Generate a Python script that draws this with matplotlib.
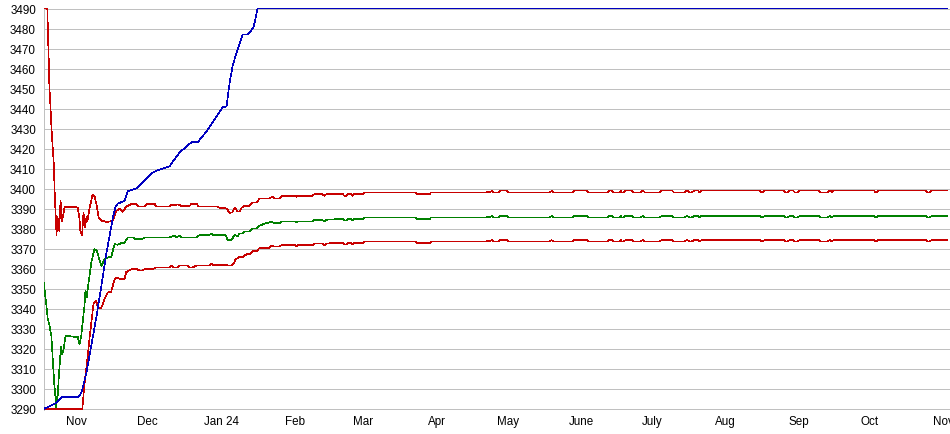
import matplotlib
matplotlib.use("Agg")
import matplotlib.pyplot as plt
import pandas as pd

start_date = "2023-10-18"

# ---- upper red series (days since start, value) ----
upper_day = [0, 1.6, 1.8, 2.2, 2.5, 3.0, 3.4, 3.9, 4.4, 4.7, 5.5, 5.9, 6.6, 7.2, 7.8, 8.2, 8.9,
             14.4, 15.2, 15.6, 16.3, 16.9, 17.5, 18.2, 18.6, 19.4, 20.7, 21.6, 22.4, 23.2, 24.4,
             25.4, 26.6, 29.2, 30.8, 32.1, 33.4, 35.1, 37.2, 39.3, 39.9, 42.7, 43.5, 46.9, 47.7,
             53.2, 54.1, 55.3, 56.6, 57.5, 58.3, 61.7, 62.5, 64.6, 65.5, 73.5, 74.4, 77.3, 78.6,
             79.8, 80.7, 82.0, 82.8, 83.7, 84.9, 87.0, 88.3, 90.0, 91.3, 95.5, 96.7, 97.6, 99.7,
             100.6, 106.0, 106.9, 107.3, 113.6, 114.5, 117.4, 118.7, 119.6]
upper_val = [3490, 3490, 3482, 3464.6, 3450.6, 3439.6, 3429.6, 3420.7, 3411.2, 3398.7, 3377, 3386,
             3379, 3394, 3384, 3386, 3391,
             3390.7, 3385, 3378, 3377, 3388, 3381, 3386, 3384, 3390, 3397, 3396, 3392, 3386, 3384,
             3384, 3383.3, 3384, 3389, 3390, 3388.5, 3391.2, 3392.4, 3392.4, 3391.2, 3391.2, 3392.4,
             3392.4, 3391.2,
             3391.2, 3392, 3391.7, 3392.2, 3391.9, 3391.4, 3391.4, 3392.5, 3392.5, 3391.2, 3391.2,
             3390.4, 3390.2, 3387.9,
             3388.2, 3390.5, 3388.7, 3388.7, 3390.5, 3391.5, 3391.5, 3393.2, 3393.2, 3395.2, 3395.2,
             3396.2, 3395.2, 3395.2,
             3396.5, 3396.5, 3396.0, 3396.5, 3396.5, 3397.4, 3397.4, 3396.5, 3397.4]

# ---- green series ----
mid_day = [0, 1.1, 1.8, 2.5, 3.3, 3.9, 4.6, 5.4, 5.7, 6.0, 6.5, 7.1, 7.5, 7.9, 8.4, 9.2, 9.6,
           11.8, 14.5, 15.2, 15.9, 17.3, 17.7, 18.3, 19.1, 20.2, 21.5, 22.5, 24.4, 25.8, 26.6,
           28.6, 30.0, 31.3, 32.8, 34.2, 35.6, 37.6, 38.9, 41.8, 42.7, 53.2, 55.3, 56.2, 57.5,
           58.3, 64.6, 65.9, 70.1, 71.0, 71.4, 76.9, 77.7, 79.4, 80.7, 82.0, 82.8, 84.1, 84.9,
           87.0, 88.3, 90.0, 91.3, 93.8, 95.5, 96.3, 97.6, 99.7, 100.6, 106.0, 106.9, 107.3,
           113.6, 114.5, 117.4, 118.7, 119.6]
mid_val = [3354, 3343, 3335, 3332, 3326.6, 3315, 3301.7, 3291, 3296, 3296.7, 3306.7, 3316.6, 3321,
           3317.4, 3319, 3325.9, 3326.6,
           3326.2, 3325.9, 3322.5, 3326, 3341.6, 3349, 3346, 3353.6, 3363.3, 3369.8, 3369, 3361.5,
           3364.8, 3365.5,
           3366, 3372.3, 3372, 3372.8, 3373, 3375.7, 3375.7, 3374.9, 3374.9, 3375.7, 3375.7, 3376.6,
           3375.7, 3376.6,
           3375.7, 3375.7, 3376.9, 3376.9, 3377.7, 3376.9, 3376.9, 3374.5, 3374.5, 3376.9, 3376.2,
           3377.7, 3377.7, 3378.7,
           3378.7, 3380.2, 3380.2, 3381.5, 3382.8, 3383.2, 3383.5, 3382.9, 3382.9, 3383.7, 3383.7,
           3383.2, 3383.7,
           3383.7, 3384.5, 3384.5, 3383.7, 3384.5]

# ---- lower red series ----
lower_day = [0, 16.4, 17.0, 17.7, 18.7, 19.4, 20.2, 21.1, 22.3, 22.9, 24.4, 25.8, 27.2, 28.6, 30.0,
             30.7, 32.1, 34.2, 34.9, 37.1, 39.3, 40.6, 41.8, 42.7, 46.1, 47.7, 53.2, 54.1, 54.9,
             56.6, 57.5, 60.8, 61.7, 63.0, 64.6, 70.1, 71.0, 71.8, 76.9, 78.6, 79.4, 80.3, 81.1,
             82.8, 84.1, 85.8, 87.0, 88.3, 90.0, 91.3, 95.5, 96.3, 97.2, 99.7, 100.6, 106.0, 106.9,
             107.3, 113.6, 114.5, 117.4, 118.7, 119.6]
lower_val = [3290, 3290, 3298.5, 3306.7, 3316.6, 3325, 3333.4, 3342.4, 3344, 3340.6, 3340.5, 3344.9,
             3348.2, 3348.6, 3354.8,
             3355.7, 3355, 3355, 3358.3, 3359.8, 3359.9, 3359.1, 3359.1, 3359.9, 3359.9, 3360.7,
             3360.7, 3361.5, 3360.7,
             3360.7, 3361.6, 3361.6, 3360.7, 3360.7, 3361.6, 3361.6, 3362.6, 3361.9, 3361.9, 3361.6,
             3361.6, 3362.5, 3364.7,
             3365.9, 3365.9, 3367.3, 3367.3, 3368.9, 3368.9, 3370.5, 3370.5, 3371.5, 3371.2, 3371.2,
             3371.9, 3371.9, 3371.4,
             3371.9, 3371.9, 3372.7, 3372.7, 3371.9, 3372.7]

# ---- shared tail (Mar 2024 onward) ----
tail_day = [125.1, 126.3, 127.0, 128.0, 128.6, 130.1, 130.5, 131.2, 134.8, 135.6,
            157.2, 157.8, 163.1, 163.7, 187.2, 187.6, 188.4, 189.3, 190.1, 192.2,
            192.9, 195.6, 196.2, 213.8, 214.6, 215.5, 223.5, 224.3, 229.4, 230.0,
            238.3, 238.9, 240.0, 240.6, 243.4, 243.8, 244.2, 245.0, 245.9, 248.4,
            249.1, 252.2, 253.1, 253.9, 260.3, 261.1, 265.3, 266.2, 270.8, 271.7,
            272.7, 273.8, 275.0, 276.3, 277.1, 278.0, 302.5, 303.1, 303.8, 304.6,
            312.6, 313.3, 314.3, 315.2, 316.4, 317.3, 318.5, 319.4, 327.4, 328.1,
            331.2, 332.1, 332.9, 333.8, 350.7, 351.3, 351.9, 352.6, 372.6, 373.3,
            374.3, 375.2, 381.5]
upper_tail = [3397.4, 3397.4, 3396.5, 3396.5, 3397.4, 3397.4, 3396.5, 3397.4, 3397.4, 3398.2,
              3398.2, 3397.4, 3397.4, 3398.2, 3398.2, 3398.7, 3398.2, 3398.9, 3398.2, 3398.2,
              3399.2, 3399.2, 3398.2, 3398.2, 3398.9, 3398.2, 3398.2, 3399.2, 3399.2, 3398.2,
              3398.2, 3399.2, 3399.2, 3398.2, 3398.2, 3399.2, 3398.2, 3398.2, 3399.2, 3399.2,
              3398.2, 3398.2, 3399.2, 3398.2, 3398.2, 3399.2, 3399.2, 3398.2, 3398.2, 3399.2,
              3398.2, 3398.2, 3399.2, 3399.2, 3398.2, 3399.2, 3399.2, 3398.2, 3398.2, 3399.2,
              3399.2, 3398.2, 3398.2, 3399.2, 3399.2, 3398.2, 3398.2, 3399.2, 3399.2, 3398.2,
              3398.2, 3399.2, 3398.2, 3399.2, 3399.2, 3398.2, 3398.2, 3399.2, 3399.2, 3398.2,
              3398.2, 3399.2, 3399.2]
mid_tail = [3384.9, 3384.9, 3384.1, 3384.1, 3384.9, 3384.9, 3384.1, 3384.9, 3384.9, 3385.7,
            3385.7, 3384.9, 3384.9, 3385.7, 3385.7, 3386.1, 3385.7, 3386.3, 3385.7, 3385.7,
            3386.5, 3386.5, 3385.7, 3385.7, 3386.3, 3385.7, 3385.7, 3386.5, 3386.5, 3385.7,
            3385.7, 3386.5, 3386.5, 3385.7, 3385.7, 3386.5, 3385.7, 3385.7, 3386.5, 3386.5,
            3385.7, 3385.7, 3386.5, 3385.7, 3385.7, 3386.5, 3386.5, 3385.7, 3385.7, 3386.5,
            3385.7, 3385.7, 3386.5, 3386.5, 3385.7, 3386.5, 3386.5, 3385.7, 3385.7, 3386.5,
            3386.5, 3385.7, 3385.7, 3386.5, 3386.5, 3385.7, 3385.7, 3386.5, 3386.5, 3385.7,
            3385.7, 3386.5, 3385.7, 3386.5, 3386.5, 3385.7, 3385.7, 3386.5, 3386.5, 3385.7,
            3385.7, 3386.5, 3386.5]
lower_tail = [3372.9, 3372.9, 3372.1, 3372.1, 3372.9, 3372.9, 3372.1, 3372.9, 3372.9, 3373.7,
              3373.7, 3372.9, 3372.9, 3373.7, 3373.7, 3374.1, 3373.7, 3374.3, 3373.7, 3373.7,
              3374.5, 3374.5, 3373.7, 3373.7, 3374.3, 3373.7, 3373.7, 3374.5, 3374.5, 3373.7,
              3373.7, 3374.5, 3374.5, 3373.7, 3373.7, 3374.5, 3373.7, 3373.7, 3374.5, 3374.5,
              3373.7, 3373.7, 3374.5, 3373.7, 3373.7, 3374.5, 3374.5, 3373.7, 3373.7, 3374.5,
              3373.7, 3373.7, 3374.5, 3374.5, 3373.7, 3374.5, 3374.5, 3373.7, 3373.7, 3374.5,
              3374.5, 3373.7, 3373.7, 3374.5, 3374.5, 3373.7, 3373.7, 3374.5, 3374.5, 3373.7,
              3373.7, 3374.5, 3373.7, 3374.5, 3374.5, 3373.7, 3373.7, 3374.5, 3374.5, 3373.7,
              3373.7, 3374.5, 3374.5]

# ---- blue series ----
blue_day = [0, 5.4, 8.0, 14.8, 16.1, 18.2, 19.4, 22.4, 24.5, 26.6, 29.2, 30.4, 31.3, 34.2, 35.5,
            39.3, 45.6, 48.2, 53.2, 57.5, 62.5, 65.1, 68.9, 72.2, 75.6, 77.3, 78.6, 79.8, 81.5,
            84.1, 86.2, 88.7, 90.4, 381.5]
blue_val = [3290, 3293, 3296, 3296, 3298.5, 3308.5, 3316.5, 3336.4, 3352, 3368, 3385, 3391, 3392.5,
            3394, 3398.7, 3400.2, 3407.7, 3409.2, 3411.2, 3418.2, 3423.2, 3423.2, 3428.7, 3434.6,
            3440.6, 3441.1, 3453, 3461, 3468, 3477, 3477, 3480.5, 3490, 3490]

y_ticks = [3290, 3300, 3310, 3320, 3330, 3340, 3350, 3360, 3370, 3380, 3390,
           3400, 3410, 3420, 3430, 3440, 3450, 3460, 3470, 3480, 3490]
tick_dates = ["2023-11-01", "2023-12-01", "2024-01-01", "2024-02-01", "2024-03-01",
              "2024-04-01", "2024-05-01", "2024-06-01", "2024-07-01", "2024-08-01",
              "2024-09-01", "2024-10-01", "2024-11-01"]
tick_labels = ["Nov", "Dec", "Jan 24", "Feb", "Mar", "Apr", "May", "June", "July",
               "Aug", "Sep", "Oct", "Nov"]

t0 = pd.Timestamp(start_date)


def to_dates(days):
    return t0 + pd.to_timedelta(days, unit="D")


plt.rcParams['font.family'] = ['Liberation Sans', 'DejaVu Sans']

W, H = 950, 435
fig = plt.figure(figsize=(W / 100, H / 100), dpi=100)
ymin, ymax = 3289.7, 3490.3
ppu = 2.0025
ax_h = (ymax - ymin) * ppu
ax_bottom_px = 410 + (3290 - ymin) * ppu
ax = fig.add_axes([43.5 / W, (H - ax_bottom_px) / H, (W - 43.5) / W, ax_h / H])

lw = 0.45
gray = '#c0c0c0'
red = '#c80000'
green = '#008000'
blue = '#0000c0'

ax.plot(to_dates(upper_day + tail_day), upper_val + upper_tail, color=red, lw=lw,
        antialiased=False, zorder=3)
ax.plot(to_dates(mid_day + tail_day), mid_val + mid_tail, color=green, lw=lw,
        antialiased=False, zorder=3)
ax.plot(to_dates(lower_day + tail_day), lower_val + lower_tail, color=red, lw=lw,
        antialiased=False, zorder=3)
ax.plot(to_dates(blue_day), blue_val, color=blue, lw=lw, antialiased=False, zorder=4)

ax.set_ylim(ymin, ymax)
ax.set_xlim(t0, t0 + pd.Timedelta(days=382.8))
ax.set_yticks(y_ticks)
ax.set_yticklabels([str(v) for v in y_ticks])
ax.set_xticks(pd.to_datetime(tick_dates))
ax.set_xticklabels(tick_labels)
ax.tick_params(axis='both', length=0, labelsize=8.4, colors='black')
ax.tick_params(axis='y', pad=5.5)
ax.tick_params(axis='x', pad=4.0)
ax.yaxis.grid(True, color=gray, lw=0.6, antialiased=False)
ax.xaxis.grid(False)
ax.set_axisbelow(True)
for s in ['top', 'right', 'bottom']:
    ax.spines[s].set_visible(False)
ax.spines['left'].set_color(gray)
ax.spines['left'].set_linewidth(0.6)
ax.spines['left'].set_antialiased(False)

fig.savefig("out.png", dpi=100)
